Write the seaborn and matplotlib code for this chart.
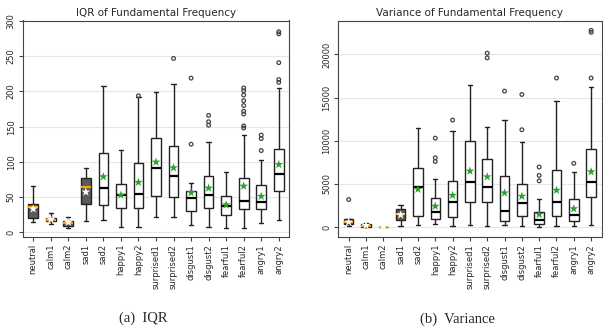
import matplotlib
matplotlib.use("Agg")
import matplotlib.pyplot as plt
import numpy as np
import pandas as pd
import seaborn as sns

categories = ["neutral", "calm1", "calm2", "sad1", "sad2", "happy1", "happy2",
              "surprised1", "surprised2", "disgust1", "disgust2", "fearful1",
              "fearful2", "angry1", "angry2"]
dark_categories = ["neutral", "calm1", "calm2", "sad1"]

# IQR of fundamental frequency (summary statistics)
iqr_q1 = [19.4, 15.3, 9.1, 40.1, 38.0, 34.7, 34.7, 51.3, 50.4, 29.8, 34.7, 23.6, 33.5, 33.5, 58.5]
iqr_med = [35.1, 16.9, 13.2, 64.5, 62.6, 53.0, 54.5, 91.5, 80.0, 47.9, 53.0, 37.6, 44.7, 43.4, 83.0]
iqr_q3 = [40.1, 19.4, 16.1, 77.2, 113.2, 67.8, 98.8, 134.0, 122.0, 58.6, 79.3, 50.9, 77.2, 66.3, 118.8]
iqr_lo = [14.4, 11.5, 6.2, 15.3, 17.4, 7.8, 7.0, 21.5, 21.5, 10.3, 7.8, 5.7, 6.2, 12.4, 17.4]
iqr_hi = [65.4, 27.7, 21.8, 91.7, 208.4, 116.6, 192.4, 199.5, 210.6, 69.4, 128.2, 85.4, 137.6, 102.4, 204.7]
iqr_mean = [33.0, 18.1, 14.0, 57.0, 78.8, 52.6, 70.8, 99.6, 91.5, 56.2, 62.6, 38.8, 65.4, 50.9, 96.2]
iqr_fliers = [[], [], [], [], [], [], [194], [], [247], [125, 219], [166, 157, 152], [],
              [205, 201, 195, 187, 180, 172, 168, 151, 148], [116, 133, 138],
              [285, 282, 241, 217, 213]]

# Variance of fundamental frequency
var_q1 = [384, 70, 10, 862, 1333, 980, 1150, 2879, 2956, 739, 1245, 389, 1245, 700, 3501]
var_med = [581, 150, 30, 1580, 4626, 1725, 2965, 5252, 4668, 1867, 2840, 856, 2879, 1400, 5252]
var_q3 = [930, 384, 60, 2060, 6821, 3410, 5290, 9997, 7936, 5913, 5018, 1750, 6613, 3268, 9103]
var_lo = [150, 50, 0, 151, 274, 353, 156, 272, 156, 272, 78, 0, 78, 78, 195]
var_hi = [1000, 465, 100, 2570, 11486, 5527, 11090, 16416, 11553, 12448, 9842, 3268, 14588, 6419, 16221]
var_mean = [588, 200, 40, 1420, 4390, 2430, 3690, 6496, 5835, 3968, 3579, 1478, 4279, 2140, 6419]
var_fliers = [[3200], [], [], [], [], [10310, 8036, 7605], [12400], [], [20150, 19606],
              [15755], [15366, 11281], [6963, 5991, 5368], [17272], [7391],
              [22795, 22562, 17272]]

titles = ["IQR of Fundamental Frequency", "Variance of Fundamental Frequency"]
captions = ["(a)  IQR", "(b)  Variance"]
ylims = [(-7, 301), None]

sns.set_style("whitegrid", {"axes.edgecolor": "#444444", "grid.color": "#e6e6e6",
                            "axes.linewidth": 1.0, "xtick.bottom": True, "ytick.left": True})
plt.rcParams["font.family"] = ["DejaVu Sans"]


def draw(ax, q1, med, q3, lo, hi, mean, fliers, title, ylim):
    pos = {c: i for i, c in enumerate(categories)}
    stats = []
    for i, c in enumerate(categories):
        stats.append(dict(label=c, q1=q1[i], med=med[i], q3=q3[i],
                          whislo=lo[i], whishi=hi[i], mean=mean[i], fliers=[]))
    bp = ax.bxp(stats, positions=list(range(len(categories))), widths=0.55,
                capwidths=0.25, patch_artist=True, showfliers=False, showmeans=False,
                boxprops=dict(edgecolor="#222222", facecolor="white", linewidth=1.0),
                whiskerprops=dict(color="#222222", linewidth=1.0),
                capprops=dict(color="#222222", linewidth=1.0),
                medianprops=dict(color="black", linewidth=1.6))
    for i, c in enumerate(categories):
        if c in dark_categories:
            bp["boxes"][i].set_facecolor("#5a5a5a")
            bp["medians"][i].set_color("#ff9e0f")
    # fliers
    fl = pd.DataFrame([(pos[c], v) for c, vals in zip(categories, fliers) for v in vals],
                      columns=["pos", "value"])
    sns.scatterplot(data=fl, x="pos", y="value", ax=ax, marker="o", s=7,
                    facecolors="none", edgecolor="#444444", linewidth=0.9, zorder=3)
    # means
    mdf = pd.DataFrame({"pos": [pos[c] for c in categories], "value": mean,
                        "kind": ["dark" if c in dark_categories else "light" for c in categories]})
    sns.scatterplot(data=mdf, x="pos", y="value", hue="kind",
                    palette={"dark": "white", "light": "#2ca02c"}, marker="*", s=45,
                    linewidth=0, ax=ax, legend=False, zorder=4)
    ax.set_xticks(range(len(categories)))
    ax.set_xticklabels(categories, rotation=90, fontsize=6)
    ax.set_xlim(-0.6, len(categories) - 0.4)
    if ylim is not None:
        ax.set_ylim(*ylim)
    ax.set_xlabel("")
    ax.set_ylabel("")
    ax.grid(axis="x", visible=False)
    ax.grid(axis="y", linewidth=0.8)
    ax.tick_params(axis="y", labelrotation=90, labelsize=6, length=3, width=0.8,
                   color="#444444", pad=2)
    ax.tick_params(axis="x", length=3, width=0.8, color="#444444", pad=2)
    for lab in ax.get_yticklabels():
        lab.set_va("center")
    ax.set_title(title, fontsize=7.5, pad=3)
    for s in ax.spines.values():
        s.set_visible(True)


fig = plt.figure(figsize=(6.03, 3.32), dpi=100)
ax1 = fig.add_axes([22.7 / 603, 1 - 237 / 332, (289.3 - 22.7) / 603, (237 - 20.5) / 332])
ax2 = fig.add_axes([338.3 / 603, 1 - 237 / 332, (601.5 - 338.3) / 603, (237 - 20.5) / 332])

draw(ax1, iqr_q1, iqr_med, iqr_q3, iqr_lo, iqr_hi, iqr_mean, iqr_fliers, titles[0], ylims[0])
draw(ax2, var_q1, var_med, var_q3, var_lo, var_hi, var_mean, var_fliers, titles[1], ylims[1])

fig.text(143 / 603, 1 - 318 / 332, captions[0], ha="center", va="center",
         family=["Liberation Serif"], fontsize=10.5)
fig.text(457 / 603, 1 - 319 / 332, captions[1], ha="center", va="center",
         family=["Liberation Serif"], fontsize=10.5)

fig.savefig("out.png", dpi=100)
